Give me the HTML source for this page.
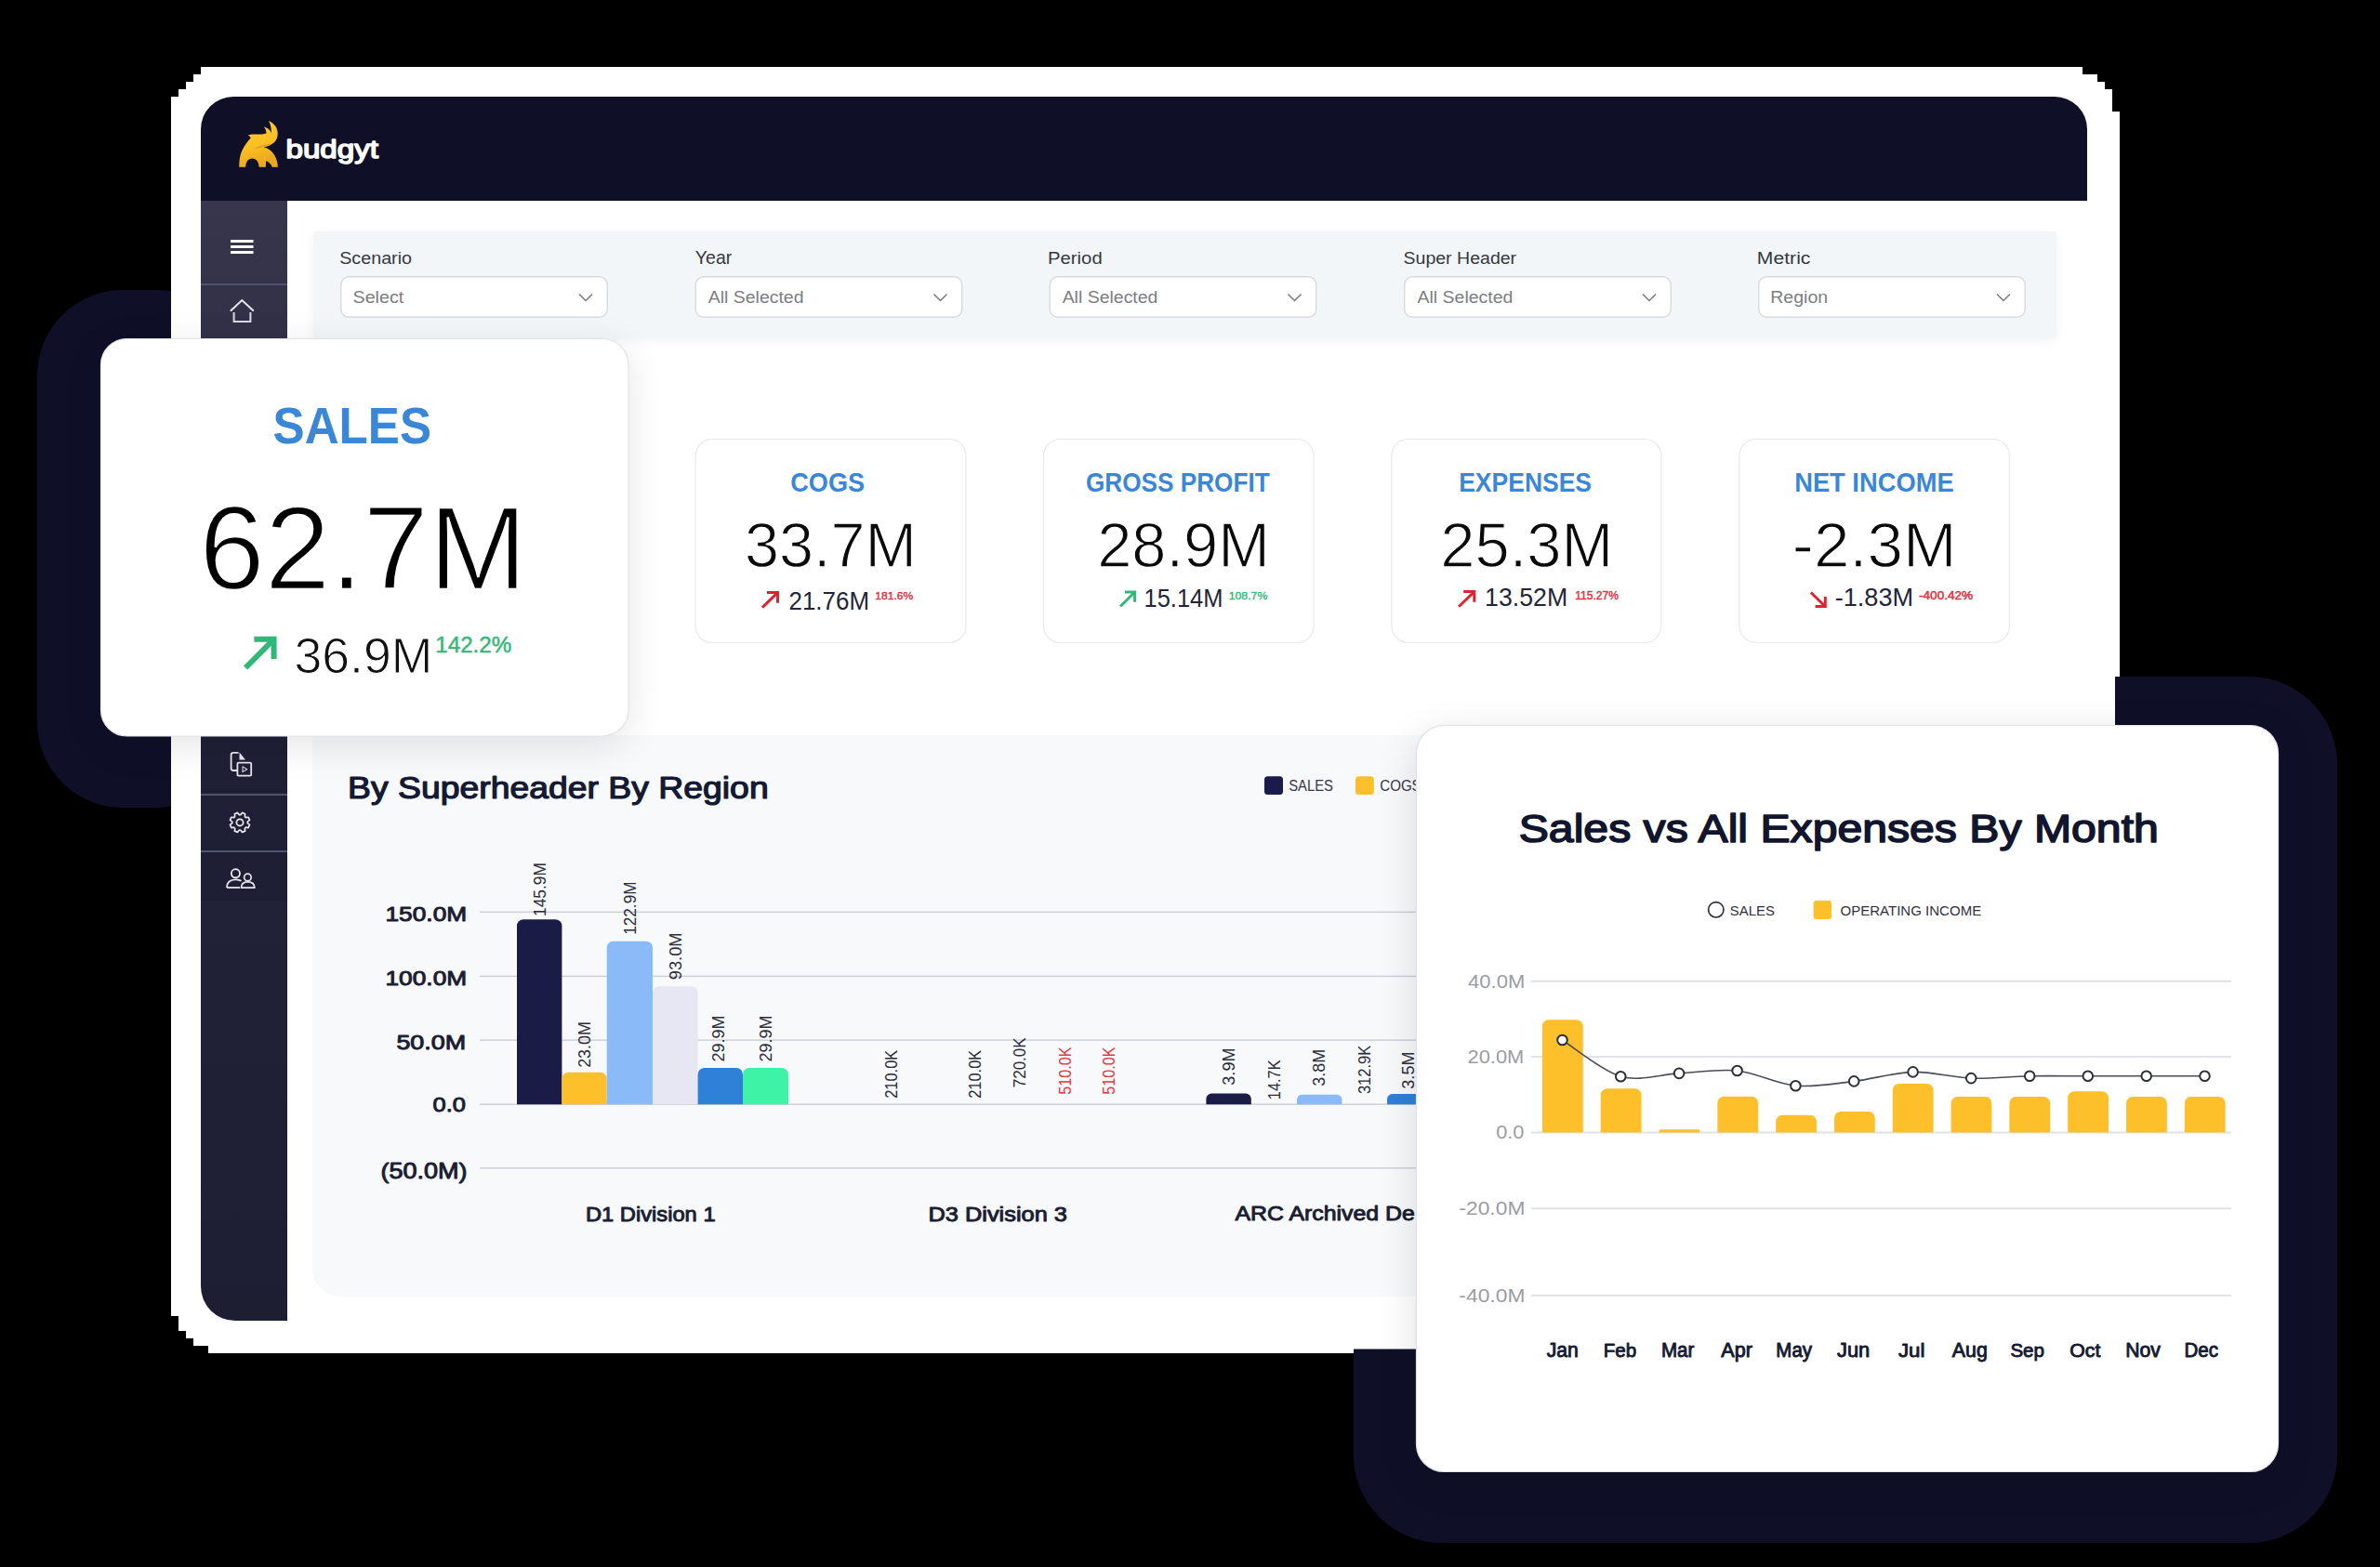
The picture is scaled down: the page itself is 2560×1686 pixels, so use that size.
<!DOCTYPE html>
<html><head><meta charset="utf-8"><title>Budgyt dashboard</title>
<style>html,body{margin:0;padding:0;background:#000;width:2560px;height:1686px;overflow:hidden}
svg text{font-family:"Liberation Sans", sans-serif}</style></head>
<body><svg width="2560" height="1686" viewBox="0 0 2560 1686" style="display:block;font-family:'Liberation Sans', sans-serif"><defs>
<filter id="sh" x="-20%" y="-20%" width="140%" height="140%"><feGaussianBlur stdDeviation="22"/></filter>
<filter id="sh2" x="-20%" y="-20%" width="140%" height="140%"><feGaussianBlur stdDeviation="6"/></filter>
<linearGradient id="sideg" x1="0" y1="216" x2="0" y2="1421" gradientUnits="userSpaceOnUse">
<stop offset="0" stop-color="#37364d"/><stop offset="0.45" stop-color="#22223a"/><stop offset="1" stop-color="#1e1e33"/></linearGradient>
<linearGradient id="logog" x1="0" y1="0" x2="0.3" y2="1">
<stop offset="0" stop-color="#ffd02e"/><stop offset="0.6" stop-color="#fcbf24"/><stop offset="1" stop-color="#e9a81d"/></linearGradient>
<clipPath id="chartclip"><rect x="336" y="791" width="1188" height="604"/></clipPath>
</defs>
<rect x="0" y="0" width="2560" height="1686" fill="#000"/>
<rect x="40" y="312" width="220.00" height="557.00" rx="92" ry="92" fill="#0f1028" />
<rect x="1456" y="728" width="1058.00" height="932.00" rx="95" ry="95" fill="#0f1028" />
<polygon points="216,72 2240,72 2240,80 2256,80 2256,88 2264,88 2264,96 2272,96 2272,120 2280,120 2280,728 2275,728 2275,1456 224,1456 224,1448 208,1448 208,1440 200,1440 200,1432 192,1432 192,1416 184,1416 184,104 192,104 192,96 200,96 200,88 208,88 208,80 216,80" fill="#ffffff"/>
<path d="M1456,1451.5 L2275,1451.5 L2275,728 L2419,728 A95,95 0 0 1 2514,823 L2514,1565 A95,95 0 0 1 2419,1660 L1551,1660 A95,95 0 0 1 1456,1565 Z" fill="#0f1028"/>
<path d="M216,216 L216,139 A35,35 0 0 1 251,104 L2210,104 A35,35 0 0 1 2245,139 L2245,216 Z" fill="#0f1027" />
<path d="M216,216 L309,216 L309,1421 L253,1421 A37,37 0 0 1 216,1384 Z" fill="url(#sideg)"/>
<rect x="216" y="792" width="93" height="177" fill="#1a1b30" opacity="0.35"/>
<rect x="216" y="305" width="93" height="2" fill="#50556f"/>
<rect x="216" y="854" width="93" height="2" fill="#50556f"/>
<rect x="216" y="915" width="93" height="2" fill="#50556f"/>
<path fill="url(#logog)" d="M257.2,179.8 L264.2,179.8 C264.3,174 267,170.4 271.3,170.4 C275.5,170.4 278.5,174 278.6,179.8 L285.8,179.8 C285.9,176.5 286,174.5 286.3,173 C289.5,174.5 292.2,177 292.7,179.8 L298.9,179.8 C298.6,173.5 296.5,167.5 292.5,163.3 C290,160.8 286.5,159 283.6,158.3 C287.5,157.5 291.5,156 294.6,153.4 C297.5,151 298.8,147 298.7,143.4 C298.6,138.5 296,133.5 289,130.1 C290.8,133 291.8,137 292,143.3 C291,140.5 289,138 283.8,136.5 C285.6,138.5 286.5,141 286.4,143.4 C283,144.6 277,144.8 271.2,144.5 L267,145.2 L269.8,148.2 C265,153.5 260.5,160 258.6,167 C257.6,171 257.2,175.5 257.2,179.8 Z"/>
<path fill="#b97f0c" opacity="0.45" d="M273.5,160.5 C278,157.2 285,155.6 292.5,154.6 C287,157.6 280,158.8 273.5,160.5 Z"/>
<path fill="#fff3b0" opacity="0.18" d="M284.6,168 C285.6,171 285.8,175 285.8,179.8 L284.8,179.8 C284.8,175 284.6,171 283.6,168 Z"/>
<text x="307.49" y="169.66" font-size="27.61" fill="#ffffff" textLength="99.52" lengthAdjust="spacingAndGlyphs"  stroke="#ffffff" stroke-width="1.48" stroke-linejoin="round">budgyt</text>
<rect x="248" y="258" width="24.5" height="3" fill="#ffffff"/>
<rect x="248" y="264" width="24.5" height="3" fill="#ffffff"/>
<rect x="248" y="270" width="24.5" height="3" fill="#ffffff"/>
<path d="M248.5,334 L260.3,323 L272.2,334" fill="none" stroke="#e8e8ee" stroke-width="2" stroke-linecap="round"/>
<path d="M251.6,336 L251.6,346 L269.4,346 L269.4,336" fill="none" stroke="#d8d8e0" stroke-width="2"/>
<path d="M256.5,809.8 L251,809.8 Q248.6,809.8 248.6,812.2 L248.6,826.8 Q248.6,829 251,829 L255,829" fill="none" stroke="#e6e6ee" stroke-width="1.8"/>
<path d="M257.5,809.5 L257.5,817.5 L264,817.5 Z" fill="#e6e6ee"/>
<rect x="255.4" y="820.6" width="14.8" height="14" rx="1.2" fill="none" stroke="#e6e6ee" stroke-width="1.8"/>
<path d="M261,824.8 L265.8,827.7 L261,830.6 Z" fill="none" stroke="#c8c8d2" stroke-width="1.2" stroke-linejoin="round"/>
<path d="M258.80,876.64 L260.52,874.40 L263.64,875.69 L263.28,878.50 A8.3,8.3 0 0 1 264.40,879.62 L267.21,879.26 L268.50,882.38 L266.26,884.10 A8.3,8.3 0 0 1 266.26,885.70 L268.50,887.42 L267.21,890.54 L264.40,890.18 A8.3,8.3 0 0 1 263.28,891.30 L263.64,894.11 L260.52,895.40 L258.80,893.16 A8.3,8.3 0 0 1 257.20,893.16 L255.48,895.40 L252.36,894.11 L252.72,891.30 A8.3,8.3 0 0 1 251.60,890.18 L248.79,890.54 L247.50,887.42 L249.74,885.70 A8.3,8.3 0 0 1 249.74,884.10 L247.50,882.38 L248.79,879.26 L251.60,879.62 A8.3,8.3 0 0 1 252.72,878.50 L252.36,875.69 L255.48,874.40 L257.20,876.64 A8.3,8.3 0 0 1 258.80,876.64 Z" fill="none" stroke="#e6e6ee" stroke-width="1.7" stroke-linejoin="round"/>
<circle cx="258" cy="884.9" r="3.6" fill="none" stroke="#e6e6ee" stroke-width="1.8"/>
<circle cx="253.4" cy="939.8" r="4.6" fill="none" stroke="#ececf2" stroke-width="1.8"/>
<path d="M244,955 Q244,946.5 253.4,946.3 Q257,946.3 259.5,947.8" fill="none" stroke="#e6e6ee" stroke-width="1.8"/>
<path d="M244,955 L258,955" fill="none" stroke="#e6e6ee" stroke-width="1.8"/>
<circle cx="266.4" cy="944" r="3.8" fill="none" stroke="#e6e6ee" stroke-width="1.7"/>
<path d="M259.5,955.2 Q259.5,948.8 266.4,948.8 Q273.8,948.8 273.8,955.2 Z" fill="none" stroke="#e6e6ee" stroke-width="1.7"/>
<rect x="337" y="252" width="1875" height="114" rx="4" fill="#000" opacity="0.05" filter="url(#sh2)"/>
<rect x="337" y="249" width="1875.00" height="115.00" rx="4" ry="4" fill="#f3f6f9" />
<text x="365.21" y="284.10" font-size="18.90" fill="#35393e" textLength="77.81" lengthAdjust="spacingAndGlyphs" >Scenario</text>
<rect x="366.75" y="297.75" width="286.5" height="43.5" rx="8.5" fill="#ffffff" stroke="#d9dadd" stroke-width="1.4"/>
<text x="379.51" y="325.90" font-size="18.90" fill="#7c7d81" textLength="54.72" lengthAdjust="spacingAndGlyphs" >Select</text>
<path d="M623,316.5 L630,323.5 L637,316.5" fill="none" stroke="#77797e" stroke-width="1.5"/>
<text x="747.86" y="284.10" font-size="19.93" fill="#35393e" textLength="39.44" lengthAdjust="spacingAndGlyphs" >Year</text>
<rect x="748.25" y="297.75" width="286.5" height="43.5" rx="8.5" fill="#ffffff" stroke="#d9dadd" stroke-width="1.4"/>
<text x="761.75" y="325.90" font-size="18.90" fill="#7c7d81" textLength="102.78" lengthAdjust="spacingAndGlyphs" >All Selected</text>
<path d="M1004.5,316.5 L1011.5,323.5 L1018.5,316.5" fill="none" stroke="#77797e" stroke-width="1.5"/>
<text x="1127.03" y="284.10" font-size="18.90" fill="#35393e" textLength="58.66" lengthAdjust="spacingAndGlyphs" >Period</text>
<rect x="1129.25" y="297.75" width="286.5" height="43.5" rx="8.5" fill="#ffffff" stroke="#d9dadd" stroke-width="1.4"/>
<text x="1142.65" y="325.90" font-size="18.90" fill="#7c7d81" textLength="102.78" lengthAdjust="spacingAndGlyphs" >All Selected</text>
<path d="M1385.5,316.5 L1392.5,323.5 L1399.5,316.5" fill="none" stroke="#77797e" stroke-width="1.5"/>
<text x="1509.52" y="284.10" font-size="18.90" fill="#35393e" textLength="121.60" lengthAdjust="spacingAndGlyphs" >Super Header</text>
<rect x="1510.75" y="297.75" width="286.5" height="43.5" rx="8.5" fill="#ffffff" stroke="#d9dadd" stroke-width="1.4"/>
<text x="1524.55" y="325.90" font-size="18.90" fill="#7c7d81" textLength="102.78" lengthAdjust="spacingAndGlyphs" >All Selected</text>
<path d="M1767,316.5 L1774,323.5 L1781,316.5" fill="none" stroke="#77797e" stroke-width="1.5"/>
<text x="1889.86" y="284.10" font-size="18.90" fill="#35393e" textLength="57.57" lengthAdjust="spacingAndGlyphs" >Metric</text>
<rect x="1891.75" y="297.75" width="286.5" height="43.5" rx="8.5" fill="#ffffff" stroke="#d9dadd" stroke-width="1.4"/>
<text x="1904.19" y="325.90" font-size="18.90" fill="#7c7d81" textLength="61.97" lengthAdjust="spacingAndGlyphs" >Region</text>
<path d="M2148,316.5 L2155,323.5 L2162,316.5" fill="none" stroke="#77797e" stroke-width="1.5"/>
<rect x="748.1" y="472.5" width="290.90" height="219.00" rx="18" ry="18" fill="#ffffff" stroke="#e8e9ec" stroke-width="1.2"/>
<rect x="1122.5" y="472.5" width="290.60" height="219.00" rx="18" ry="18" fill="#ffffff" stroke="#e8e9ec" stroke-width="1.2"/>
<rect x="1496.9" y="472.5" width="290.00" height="219.00" rx="18" ry="18" fill="#ffffff" stroke="#e8e9ec" stroke-width="1.2"/>
<rect x="1870.9" y="472.5" width="290.60" height="219.00" rx="18" ry="18" fill="#ffffff" stroke="#e8e9ec" stroke-width="1.2"/>
<text x="850.32" y="529.20" font-size="28.96" font-weight="bold" fill="#3a86d7" textLength="79.76" lengthAdjust="spacingAndGlyphs" >COGS</text>
<text x="1167.95" y="529.20" font-size="28.96" font-weight="bold" fill="#3a86d7" textLength="197.74" lengthAdjust="spacingAndGlyphs" >GROSS PROFIT</text>
<text x="1569.21" y="529.20" font-size="28.96" font-weight="bold" fill="#3a86d7" textLength="142.81" lengthAdjust="spacingAndGlyphs" >EXPENSES</text>
<text x="1930.16" y="529.20" font-size="28.96" font-weight="bold" fill="#3a86d7" textLength="171.45" lengthAdjust="spacingAndGlyphs" >NET INCOME</text>
<text x="801.00" y="610.40" font-size="68.24" fill="#0a0a0a" textLength="185.08" lengthAdjust="spacingAndGlyphs" stroke="#fff" stroke-width="1.3">33.7M</text>
<text x="1180.16" y="610.40" font-size="68.24" fill="#0a0a0a" textLength="185.85" lengthAdjust="spacingAndGlyphs" stroke="#fff" stroke-width="1.3">28.9M</text>
<text x="1549.35" y="610.40" font-size="68.24" fill="#0a0a0a" textLength="185.96" lengthAdjust="spacingAndGlyphs" stroke="#fff" stroke-width="1.3">25.3M</text>
<text x="1927.89" y="610.40" font-size="68.24" fill="#0a0a0a" textLength="176.73" lengthAdjust="spacingAndGlyphs" stroke="#fff" stroke-width="1.3">-2.3M</text>
<path d="M819.9499999999999,653.5500000000001 L836.2,637.8" stroke="#dc2430" stroke-width="3.0" fill="none"/><path d="M825.012,637.5 L836.5,637.5 L836.5,648.648" stroke="#dc2430" stroke-width="3.0" fill="none" stroke-linejoin="miter"/>
<text x="848.50" y="656.00" font-size="27.53" fill="#23243a" textLength="86.48" lengthAdjust="spacingAndGlyphs" >21.76M</text>
<text x="941.31" y="644.78" font-size="11.71" fill="#dc3340" textLength="40.89" lengthAdjust="spacingAndGlyphs"  stroke="#dc3340" stroke-width="0.43" stroke-linejoin="round">181.6%</text>
<path d="M1205.1499999999999,652.5500000000001 L1220.3,637.3" stroke="#2fb877" stroke-width="3.0" fill="none"/><path d="M1209.86,637.0 L1220.6,637.0 L1220.6,647.808" stroke="#2fb877" stroke-width="3.0" fill="none" stroke-linejoin="miter"/>
<text x="1230.49" y="653.20" font-size="27.49" fill="#23243a" textLength="85.07" lengthAdjust="spacingAndGlyphs" >15.14M</text>
<text x="1321.70" y="644.78" font-size="11.71" fill="#38b97c" textLength="41.61" lengthAdjust="spacingAndGlyphs"  stroke="#38b97c" stroke-width="0.43" stroke-linejoin="round">108.7%</text>
<path d="M1569.05,652.75 L1585.5,636.9" stroke="#dc2430" stroke-width="3.0" fill="none"/><path d="M1574.176,636.6 L1585.8,636.6 L1585.8,647.816" stroke="#dc2430" stroke-width="3.0" fill="none" stroke-linejoin="miter"/>
<text x="1597.10" y="652.40" font-size="27.24" fill="#23243a" textLength="89.05" lengthAdjust="spacingAndGlyphs" >13.52M</text>
<text x="1694.22" y="644.58" font-size="11.98" fill="#dc3340" textLength="46.67" lengthAdjust="spacingAndGlyphs"  stroke="#dc3340" stroke-width="0.44" stroke-linejoin="round">115.27%</text>
<path d="M1947.85,637.4499999999999 L1963.0,652.2" stroke="#dc2430" stroke-width="3.0" fill="none"/><path d="M1963.3,642.032 L1963.3,652.5 L1952.56,652.5" stroke="#dc2430" stroke-width="3.0" fill="none" stroke-linejoin="miter"/>
<text x="1973.68" y="652.20" font-size="26.95" fill="#23243a" textLength="84.49" lengthAdjust="spacingAndGlyphs" >-1.83M</text>
<text x="2064.02" y="644.57" font-size="12.66" fill="#dc3340" textLength="58.20" lengthAdjust="spacingAndGlyphs"  stroke="#dc3340" stroke-width="0.47" stroke-linejoin="round">-400.42%</text>
<path d="M336,791 L1530,791 L1530,1395 L366,1395 A30,30 0 0 1 336,1365 Z" fill="#f7f9fb"/>
<text x="374.03" y="859.19" font-size="32.38" fill="#141a33" textLength="452.64" lengthAdjust="spacingAndGlyphs"  stroke="#141a33" stroke-width="1.23" stroke-linejoin="round">By Superheader By Region</text>
<rect x="1360" y="835.2" width="20.00" height="19.80" rx="3.5" ry="3.5" fill="#1b1b4b" />
<text x="1386.23" y="850.70" font-size="15.63" fill="#33354a" textLength="47.72" lengthAdjust="spacingAndGlyphs" >SALES</text>
<rect x="1458" y="835.2" width="19.80" height="19.80" rx="3.5" ry="3.5" fill="#fdc02b" />
<g clip-path="url(#chartclip)">
<text x="1484.25" y="850.70" font-size="15.63" fill="#33354a" textLength="44.43" lengthAdjust="spacingAndGlyphs" >COGS</text>
<rect x="516" y="980.55" width="1010" height="1.5" fill="#cdd0d6"/>
<rect x="516" y="1049.65" width="1010" height="1.5" fill="#cdd0d6"/>
<rect x="516" y="1118.35" width="1010" height="1.5" fill="#cdd0d6"/>
<rect x="516" y="1187.45" width="1010" height="1.5" fill="#cdd0d6"/>
<rect x="516" y="1256.05" width="1010" height="1.5" fill="#cdd0d6"/>
<text x="414.52" y="990.51" font-size="22.98" fill="#1a1d33" textLength="87.61" lengthAdjust="spacingAndGlyphs"  stroke="#1a1d33" stroke-width="0.97" stroke-linejoin="round">150.0M</text>
<text x="414.52" y="1059.91" font-size="22.98" fill="#1a1d33" textLength="87.61" lengthAdjust="spacingAndGlyphs"  stroke="#1a1d33" stroke-width="0.97" stroke-linejoin="round">100.0M</text>
<text x="426.41" y="1128.51" font-size="22.98" fill="#1a1d33" textLength="74.73" lengthAdjust="spacingAndGlyphs"  stroke="#1a1d33" stroke-width="0.97" stroke-linejoin="round">50.0M</text>
<text x="465.53" y="1195.51" font-size="22.98" fill="#1a1d33" textLength="35.44" lengthAdjust="spacingAndGlyphs"  stroke="#1a1d33" stroke-width="0.97" stroke-linejoin="round">0.0</text>
<text x="409.40" y="1267.51" font-size="24.50" fill="#1a1d33" textLength="93.14" lengthAdjust="spacingAndGlyphs"  stroke="#1a1d33" stroke-width="0.98" stroke-linejoin="round">(50.0M)</text>
<path d="M556.00,1188.2 L556.00,996.30 A7.00,7.00 0 0 1 563.00,989.30 L597.40,989.30 A7.00,7.00 0 0 1 604.40,996.30 L604.40,1188.2 Z" fill="#1b1b48"/>
<path d="M604.40,1188.2 L604.40,1160.80 A7.00,7.00 0 0 1 611.40,1153.80 L645.70,1153.80 A7.00,7.00 0 0 1 652.70,1160.80 L652.70,1188.2 Z" fill="#fdc02b"/>
<path d="M652.70,1188.2 L652.70,1019.80 A7.00,7.00 0 0 1 659.70,1012.80 L695.00,1012.80 A7.00,7.00 0 0 1 702.00,1019.80 L702.00,1188.2 Z" fill="#8bbaf9"/>
<path d="M702.00,1188.2 L702.00,1068.30 A7.00,7.00 0 0 1 709.00,1061.30 L743.60,1061.30 A7.00,7.00 0 0 1 750.60,1068.30 L750.60,1188.2 Z" fill="#e7e6f3"/>
<path d="M750.60,1188.2 L750.60,1156.00 A7.00,7.00 0 0 1 757.60,1149.00 L792.00,1149.00 A7.00,7.00 0 0 1 799.00,1156.00 L799.00,1188.2 Z" fill="#2f80d7"/>
<path d="M799.00,1188.2 L799.00,1156.00 A7.00,7.00 0 0 1 806.00,1149.00 L841.00,1149.00 A7.00,7.00 0 0 1 848.00,1156.00 L848.00,1188.2 Z" fill="#3ef2a6"/>
<path d="M1297.40,1188.2 L1297.40,1182.35 A5.85,5.85 0 0 1 1303.25,1176.50 L1339.95,1176.50 A5.85,5.85 0 0 1 1345.80,1182.35 L1345.80,1188.2 Z" fill="#1b1b48"/>
<path d="M1395.00,1188.2 L1395.00,1183.00 A5.20,5.20 0 0 1 1400.20,1177.80 L1438.20,1177.80 A5.20,5.20 0 0 1 1443.40,1183.00 L1443.40,1188.2 Z" fill="#8bbaf9"/>
<path d="M1492.00,1188.2 L1492.00,1182.60 A5.60,5.60 0 0 1 1497.60,1177.00 L1534.80,1177.00 A5.60,5.60 0 0 1 1540.40,1182.60 L1540.40,1188.2 Z" fill="#2f80d7"/>
<g transform="translate(586.62,984.70) rotate(-90)"><text x="-1.30" y="0.00" font-size="17.50" fill="#2b2d3a" textLength="58.00" lengthAdjust="spacingAndGlyphs" >145.9M</text></g>
<g transform="translate(635.12,1148.00) rotate(-90)"><text x="-0.89" y="0.00" font-size="17.50" fill="#2b2d3a" textLength="49.71" lengthAdjust="spacingAndGlyphs" >23.0M</text></g>
<g transform="translate(684.12,1004.40) rotate(-90)"><text x="-1.28" y="0.00" font-size="17.50" fill="#2b2d3a" textLength="57.06" lengthAdjust="spacingAndGlyphs" >122.9M</text></g>
<g transform="translate(732.62,1053.40) rotate(-90)"><text x="-0.82" y="0.00" font-size="17.50" fill="#2b2d3a" textLength="50.67" lengthAdjust="spacingAndGlyphs" >93.0M</text></g>
<g transform="translate(779.12,1141.60) rotate(-90)"><text x="-0.90" y="0.00" font-size="17.50" fill="#2b2d3a" textLength="49.92" lengthAdjust="spacingAndGlyphs" >29.9M</text></g>
<g transform="translate(829.62,1141.60) rotate(-90)"><text x="-0.90" y="0.00" font-size="17.50" fill="#2b2d3a" textLength="49.92" lengthAdjust="spacingAndGlyphs" >29.9M</text></g>
<g transform="translate(964.52,1181.00) rotate(-90)"><text x="-0.82" y="0.00" font-size="17.50" fill="#2b2d3a" textLength="52.02" lengthAdjust="spacingAndGlyphs" >210.0K</text></g>
<g transform="translate(1054.53,1181.00) rotate(-90)"><text x="-0.82" y="0.00" font-size="17.50" fill="#2b2d3a" textLength="52.02" lengthAdjust="spacingAndGlyphs" >210.0K</text></g>
<g transform="translate(1102.92,1169.50) rotate(-90)"><text x="-0.85" y="0.00" font-size="17.50" fill="#2b2d3a" textLength="54.06" lengthAdjust="spacingAndGlyphs" >720.0K</text></g>
<g transform="translate(1151.53,1177.00) rotate(-90)"><text x="-0.65" y="0.00" font-size="17.50" fill="#e03a45" textLength="51.24" lengthAdjust="spacingAndGlyphs" >510.0K</text></g>
<g transform="translate(1198.72,1177.00) rotate(-90)"><text x="-0.65" y="0.00" font-size="17.50" fill="#e03a45" textLength="51.24" lengthAdjust="spacingAndGlyphs" >510.0K</text></g>
<g transform="translate(1328.12,1167.00) rotate(-90)"><text x="-0.68" y="0.00" font-size="17.50" fill="#2b2d3a" textLength="40.13" lengthAdjust="spacingAndGlyphs" >3.9M</text></g>
<g transform="translate(1376.62,1182.00) rotate(-90)"><text x="-1.23" y="0.00" font-size="17.50" fill="#2b2d3a" textLength="42.91" lengthAdjust="spacingAndGlyphs" >14.7K</text></g>
<g transform="translate(1425.12,1168.00) rotate(-90)"><text x="-0.67" y="0.00" font-size="17.50" fill="#2b2d3a" textLength="39.71" lengthAdjust="spacingAndGlyphs" >3.8M</text></g>
<g transform="translate(1474.12,1176.50) rotate(-90)"><text x="-0.62" y="0.00" font-size="17.50" fill="#2b2d3a" textLength="52.32" lengthAdjust="spacingAndGlyphs" >312.9K</text></g>
<g transform="translate(1520.83,1171.00) rotate(-90)"><text x="-0.68" y="0.00" font-size="17.50" fill="#2b2d3a" textLength="40.13" lengthAdjust="spacingAndGlyphs" >3.5M</text></g>
<text x="629.92" y="1313.73" font-size="22.28" fill="#1a1d33" textLength="139.67" lengthAdjust="spacingAndGlyphs"  stroke="#1a1d33" stroke-width="0.94" stroke-linejoin="round">D1 Division 1</text>
<text x="998.48" y="1313.73" font-size="22.28" fill="#1a1d33" textLength="149.46" lengthAdjust="spacingAndGlyphs"  stroke="#1a1d33" stroke-width="0.94" stroke-linejoin="round">D3 Division 3</text>
<text x="1328.51" y="1313.13" font-size="22.28" fill="#1a1d33" textLength="193.30" lengthAdjust="spacingAndGlyphs"  stroke="#1a1d33" stroke-width="0.94" stroke-linejoin="round">ARC Archived De</text>
</g>
<rect x="108" y="374" width="568" height="428" rx="28" fill="#000" opacity="0.10" filter="url(#sh)"/>
<rect x="108.5" y="364.5" width="567.50" height="427.50" rx="28" ry="28" fill="#ffffff" stroke="#e2e3e7" stroke-width="1.2"/>
<text x="293.59" y="476.50" font-size="55.20" font-weight="bold" fill="#3a86d7" textLength="170.40" lengthAdjust="spacingAndGlyphs" >SALES</text>
<text x="214.26" y="633.80" font-size="127.74" fill="#000000" textLength="352.61" lengthAdjust="spacingAndGlyphs" stroke="#fff" stroke-width="2.4">62.7M</text>
<path d="M264.1,718.5 L294.0,688.3000000000001" stroke="#2fb877" stroke-width="6" fill="none"/><path d="M273.392,687.7 L294.6,687.7 L294.6,709.1120000000001" stroke="#2fb877" stroke-width="6" fill="none" stroke-linejoin="miter"/>
<text x="316.49" y="723.50" font-size="53.76" fill="#111111" textLength="148.76" lengthAdjust="spacingAndGlyphs" stroke="#fff" stroke-width="1.0">36.9M</text>
<text x="468.22" y="701.86" font-size="23.12" fill="#35b878" textLength="82.07" lengthAdjust="spacingAndGlyphs"  stroke="#35b878" stroke-width="0.48" stroke-linejoin="round">142.2%</text>
<rect x="1523" y="790" width="928" height="804" rx="30" fill="#000" opacity="0.12" filter="url(#sh)"/>
<rect x="1523.5" y="780.5" width="927.00" height="803.00" rx="30" ry="30" fill="#ffffff" stroke="#dfe0e4" stroke-width="1.2"/>
<text x="1633.74" y="906.09" font-size="42.60" fill="#12152e" textLength="688.07" lengthAdjust="spacingAndGlyphs"  stroke="#12152e" stroke-width="1.61" stroke-linejoin="round">Sales vs All Expenses By Month</text>
<circle cx="1845.8" cy="978.8" r="8.2" fill="none" stroke="#2d2f3a" stroke-width="1.7"/>
<text x="1860.83" y="984.90" font-size="15.48" fill="#2f3140" textLength="48.03" lengthAdjust="spacingAndGlyphs" >SALES</text>
<rect x="1950.6" y="969" width="19.40" height="20.00" rx="3" ry="3" fill="#fdc02b" />
<text x="1979.49" y="984.90" font-size="15.48" fill="#2f3140" textLength="151.73" lengthAdjust="spacingAndGlyphs" >OPERATING INCOME</text>
<rect x="1647" y="1054.8" width="753" height="2" fill="#e0e2e6"/>
<rect x="1647" y="1136.1" width="753" height="2" fill="#e0e2e6"/>
<rect x="1647" y="1217.5" width="753" height="2" fill="#e0e2e6"/>
<rect x="1647" y="1299.2" width="753" height="2" fill="#e0e2e6"/>
<rect x="1647" y="1392.9" width="753" height="2" fill="#e0e2e6"/>
<text x="1579.10" y="1062.50" font-size="19.93" fill="#9a9ca3" textLength="61.24" lengthAdjust="spacingAndGlyphs" >40.0M</text>
<text x="1578.51" y="1143.70" font-size="19.93" fill="#9a9ca3" textLength="60.83" lengthAdjust="spacingAndGlyphs" >20.0M</text>
<text x="1609.18" y="1225.30" font-size="19.93" fill="#9a9ca3" textLength="30.24" lengthAdjust="spacingAndGlyphs" >0.0</text>
<text x="1569.37" y="1307.30" font-size="19.93" fill="#9a9ca3" textLength="71.05" lengthAdjust="spacingAndGlyphs" >-20.0M</text>
<text x="1569.37" y="1401.00" font-size="19.93" fill="#9a9ca3" textLength="71.05" lengthAdjust="spacingAndGlyphs" >-40.0M</text>
<path d="M1658.90,1218.5 L1658.90,1104.30 A7.00,7.00 0 0 1 1665.90,1097.30 L1695.70,1097.30 A7.00,7.00 0 0 1 1702.70,1104.30 L1702.70,1218.5 Z" fill="#fdbf2a"/>
<path d="M1721.71,1218.5 L1721.71,1178.30 A7.00,7.00 0 0 1 1728.71,1171.30 L1758.51,1171.30 A7.00,7.00 0 0 1 1765.51,1178.30 L1765.51,1218.5 Z" fill="#fdbf2a"/>
<path d="M1784.52,1218.5 L1784.52,1216.85 A1.65,1.65 0 0 1 1786.17,1215.20 L1826.67,1215.20 A1.65,1.65 0 0 1 1828.32,1216.85 L1828.32,1218.5 Z" fill="#fdbf2a"/>
<path d="M1847.33,1218.5 L1847.33,1186.80 A7.00,7.00 0 0 1 1854.33,1179.80 L1884.13,1179.80 A7.00,7.00 0 0 1 1891.13,1186.80 L1891.13,1218.5 Z" fill="#fdbf2a"/>
<path d="M1910.14,1218.5 L1910.14,1206.70 A7.00,7.00 0 0 1 1917.14,1199.70 L1946.94,1199.70 A7.00,7.00 0 0 1 1953.94,1206.70 L1953.94,1218.5 Z" fill="#fdbf2a"/>
<path d="M1972.95,1218.5 L1972.95,1202.90 A7.00,7.00 0 0 1 1979.95,1195.90 L2009.75,1195.90 A7.00,7.00 0 0 1 2016.75,1202.90 L2016.75,1218.5 Z" fill="#fdbf2a"/>
<path d="M2035.76,1218.5 L2035.76,1172.90 A7.00,7.00 0 0 1 2042.76,1165.90 L2072.56,1165.90 A7.00,7.00 0 0 1 2079.56,1172.90 L2079.56,1218.5 Z" fill="#fdbf2a"/>
<path d="M2098.57,1218.5 L2098.57,1187.00 A7.00,7.00 0 0 1 2105.57,1180.00 L2135.37,1180.00 A7.00,7.00 0 0 1 2142.37,1187.00 L2142.37,1218.5 Z" fill="#fdbf2a"/>
<path d="M2161.38,1218.5 L2161.38,1187.00 A7.00,7.00 0 0 1 2168.38,1180.00 L2198.18,1180.00 A7.00,7.00 0 0 1 2205.18,1187.00 L2205.18,1218.5 Z" fill="#fdbf2a"/>
<path d="M2224.19,1218.5 L2224.19,1181.20 A7.00,7.00 0 0 1 2231.19,1174.20 L2260.99,1174.20 A7.00,7.00 0 0 1 2267.99,1181.20 L2267.99,1218.5 Z" fill="#fdbf2a"/>
<path d="M2287.00,1218.5 L2287.00,1187.00 A7.00,7.00 0 0 1 2294.00,1180.00 L2323.80,1180.00 A7.00,7.00 0 0 1 2330.80,1187.00 L2330.80,1218.5 Z" fill="#fdbf2a"/>
<path d="M2349.81,1218.5 L2349.81,1187.00 A7.00,7.00 0 0 1 2356.81,1180.00 L2386.61,1180.00 A7.00,7.00 0 0 1 2393.61,1187.00 L2393.61,1218.5 Z" fill="#fdbf2a"/>
<path d="M1680.5,1119 C1690.55,1125.27 1723.20,1152.46 1743.3,1158.2 C1763.40,1163.94 1786.05,1155.89 1806.1,1154.9 C1826.15,1153.91 1848.55,1149.87 1868.6,1152 C1888.65,1154.13 1911.30,1166.38 1931.4,1168.2 C1951.50,1170.02 1974.01,1165.77 1994.2,1163.4 C2014.39,1161.03 2037.44,1153.93 2057.6,1153.4 C2077.76,1152.87 2100.10,1159.40 2120.2,1160.1 C2140.30,1160.80 2163.10,1158.17 2183.2,1157.8 C2203.30,1157.43 2225.72,1157.80 2245.8,1157.8 C2265.88,1157.80 2288.59,1157.80 2308.7,1157.8 C2328.81,1157.80 2361.45,1157.80 2371.5,1157.8" fill="none" stroke="#4a4c57" stroke-width="1.6"/>
<circle cx="1680.5" cy="1119" r="5.3" fill="#ffffff" stroke="#2d2f3a" stroke-width="2"/>
<circle cx="1743.3" cy="1158.2" r="5.3" fill="#ffffff" stroke="#2d2f3a" stroke-width="2"/>
<circle cx="1806.1" cy="1154.9" r="5.3" fill="#ffffff" stroke="#2d2f3a" stroke-width="2"/>
<circle cx="1868.6" cy="1152" r="5.3" fill="#ffffff" stroke="#2d2f3a" stroke-width="2"/>
<circle cx="1931.4" cy="1168.2" r="5.3" fill="#ffffff" stroke="#2d2f3a" stroke-width="2"/>
<circle cx="1994.2" cy="1163.4" r="5.3" fill="#ffffff" stroke="#2d2f3a" stroke-width="2"/>
<circle cx="2057.6" cy="1153.4" r="5.3" fill="#ffffff" stroke="#2d2f3a" stroke-width="2"/>
<circle cx="2120.2" cy="1160.1" r="5.3" fill="#ffffff" stroke="#2d2f3a" stroke-width="2"/>
<circle cx="2183.2" cy="1157.8" r="5.3" fill="#ffffff" stroke="#2d2f3a" stroke-width="2"/>
<circle cx="2245.8" cy="1157.8" r="5.3" fill="#ffffff" stroke="#2d2f3a" stroke-width="2"/>
<circle cx="2308.7" cy="1157.8" r="5.3" fill="#ffffff" stroke="#2d2f3a" stroke-width="2"/>
<circle cx="2371.5" cy="1157.8" r="5.3" fill="#ffffff" stroke="#2d2f3a" stroke-width="2"/>
<text x="1663.78" y="1459.75" font-size="21.23" fill="#141a33" textLength="34.09" lengthAdjust="spacingAndGlyphs"  stroke="#141a33" stroke-width="0.90" stroke-linejoin="round">Jan</text>
<text x="1724.70" y="1459.77" font-size="20.20" fill="#141a33" textLength="35.44" lengthAdjust="spacingAndGlyphs"  stroke="#141a33" stroke-width="0.86" stroke-linejoin="round">Feb</text>
<text x="1786.99" y="1459.75" font-size="21.23" fill="#141a33" textLength="35.42" lengthAdjust="spacingAndGlyphs"  stroke="#141a33" stroke-width="0.90" stroke-linejoin="round">Mar</text>
<text x="1851.34" y="1459.75" font-size="21.23" fill="#141a33" textLength="33.52" lengthAdjust="spacingAndGlyphs"  stroke="#141a33" stroke-width="0.90" stroke-linejoin="round">Apr</text>
<text x="1910.33" y="1459.75" font-size="21.23" fill="#141a33" textLength="38.68" lengthAdjust="spacingAndGlyphs"  stroke="#141a33" stroke-width="0.90" stroke-linejoin="round">May</text>
<text x="1975.96" y="1459.75" font-size="21.23" fill="#141a33" textLength="35.26" lengthAdjust="spacingAndGlyphs"  stroke="#141a33" stroke-width="0.90" stroke-linejoin="round">Jun</text>
<text x="2041.95" y="1459.77" font-size="20.20" fill="#141a33" textLength="28.50" lengthAdjust="spacingAndGlyphs"  stroke="#141a33" stroke-width="0.86" stroke-linejoin="round">Jul</text>
<text x="2099.82" y="1459.75" font-size="21.23" fill="#141a33" textLength="37.98" lengthAdjust="spacingAndGlyphs"  stroke="#141a33" stroke-width="0.90" stroke-linejoin="round">Aug</text>
<text x="2162.38" y="1459.76" font-size="20.95" fill="#141a33" textLength="36.58" lengthAdjust="spacingAndGlyphs"  stroke="#141a33" stroke-width="0.89" stroke-linejoin="round">Sep</text>
<text x="2226.34" y="1459.76" font-size="20.95" fill="#141a33" textLength="32.99" lengthAdjust="spacingAndGlyphs"  stroke="#141a33" stroke-width="0.89" stroke-linejoin="round">Oct</text>
<text x="2286.13" y="1459.75" font-size="21.23" fill="#141a33" textLength="37.66" lengthAdjust="spacingAndGlyphs"  stroke="#141a33" stroke-width="0.90" stroke-linejoin="round">Nov</text>
<text x="2349.55" y="1459.75" font-size="21.23" fill="#141a33" textLength="36.45" lengthAdjust="spacingAndGlyphs"  stroke="#141a33" stroke-width="0.90" stroke-linejoin="round">Dec</text></svg></body></html>
